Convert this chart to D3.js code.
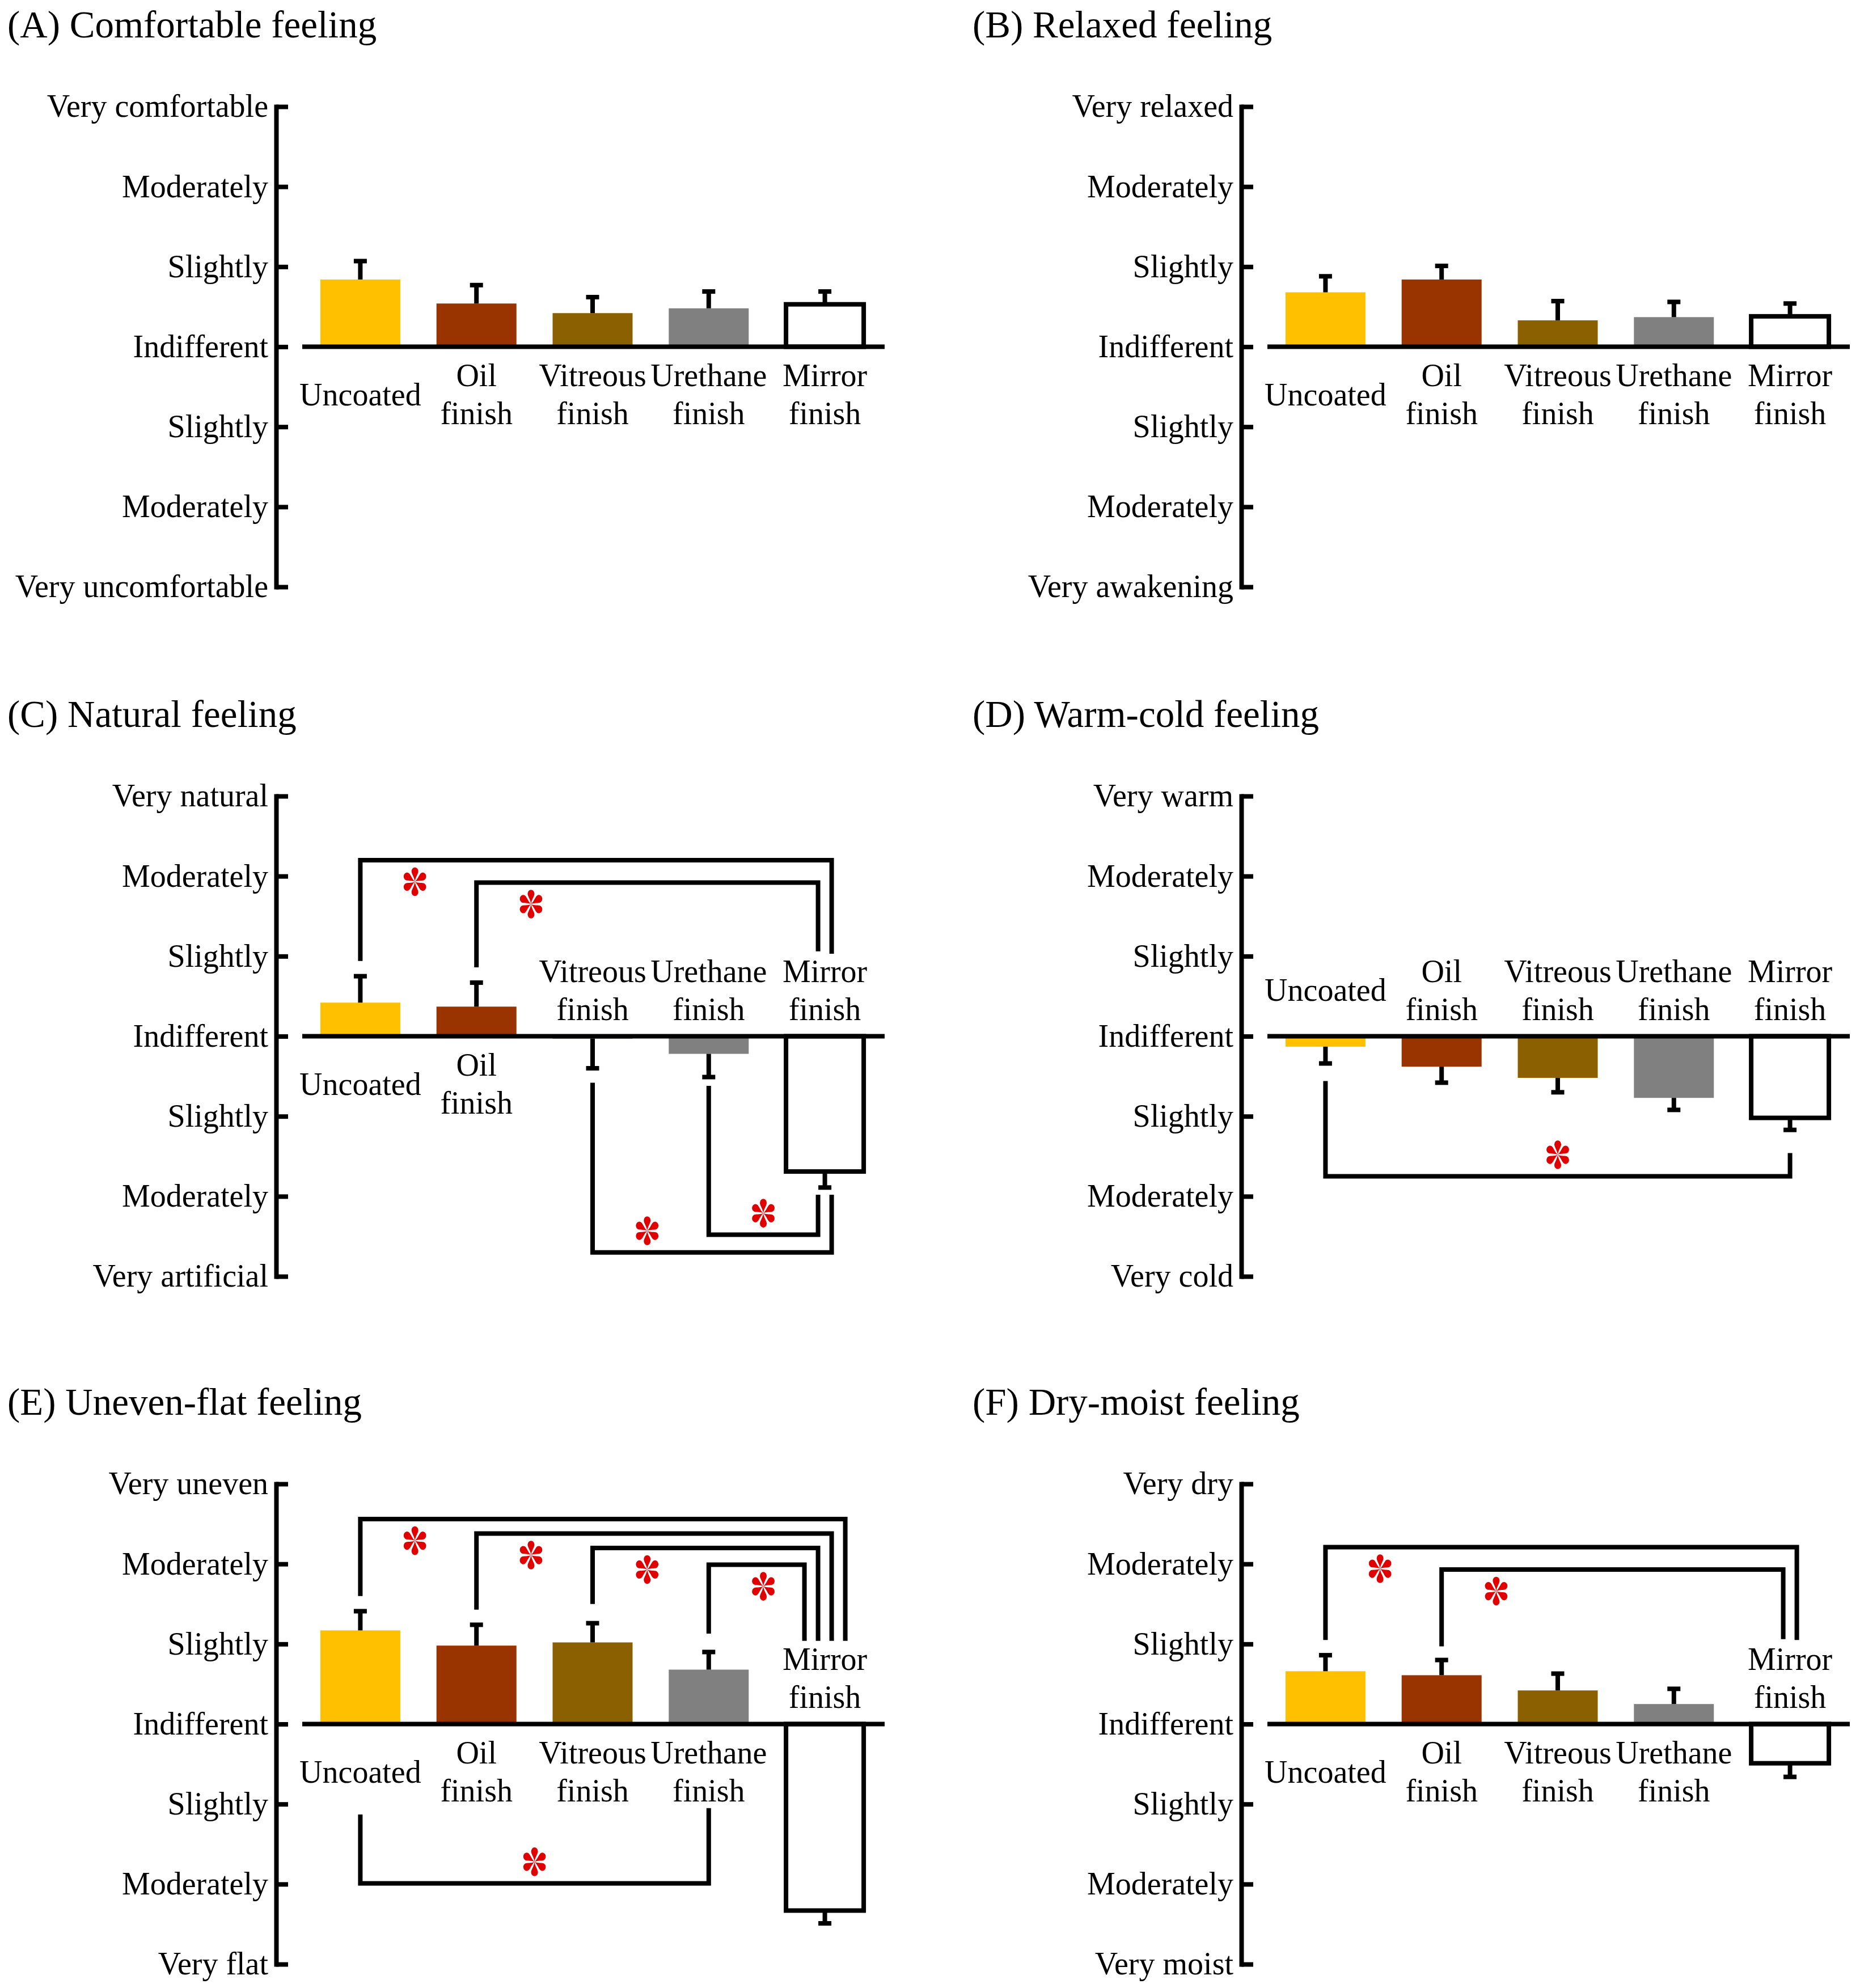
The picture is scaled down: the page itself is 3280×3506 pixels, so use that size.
<!DOCTYPE html>
<html lang="en">
<head>
  <meta charset="UTF-8">
  <title>Feelings by finish</title>
  <script src="https://d3js.org/d3.v7.min.js"></script>
  <style>
    html, body { margin: 0; padding: 0; background: #fff; }
    svg { display: block; background: #fff; }
    text { font-family: "Liberation Serif", "Times New Roman", serif; fill: #000; }
  </style>
</head>
<body>
  <svg id="chart" width="3280" height="3506"></svg>
  <script>
    // Categories shared by every panel
    const categories = ["Uncoated", "Oil finish", "Vitreous finish", "Urethane finish", "Mirror finish"];
    const barColors = ["#FFC000", "#993300", "#8B6000", "#808080", "#FFFFFF"];

    const tickValues = [-3, -2, -1, 0, 1, 2, 3];
    const middleTicks = ["Moderately", "Slightly", "Indifferent", "Slightly", "Moderately"];

    const titles = ["(A) Comfortable feeling", "(B) Relaxed feeling", "(C) Natural feeling",
                    "(D) Warm-cold feeling", "(E) Uneven-flat feeling", "(F) Dry-moist feeling"];
    const topTicks = ["Very comfortable", "Very relaxed", "Very natural", "Very warm", "Very uneven", "Very dry"];
    const bottomTicks = ["Very uncomfortable", "Very awakening", "Very artificial", "Very cold", "Very flat", "Very moist"];

    // Means and standard errors
    const meansA = [0.84, 0.54, 0.42, 0.48, 0.53];
    const seA    = [0.23, 0.23, 0.20, 0.21, 0.16];
    const meansB = [0.68, 0.84, 0.33, 0.37, 0.38];
    const seB    = [0.20, 0.17, 0.24, 0.19, 0.16];
    const meansC = [0.42, 0.37, -0.03, -0.22, -1.69];
    const seC    = [0.33, 0.30, 0.37, 0.29, 0.20];
    const meansD = [-0.13, -0.38, -0.52, -0.77, -1.02];
    const seD    = [0.21, 0.20, 0.18, 0.15, 0.15];
    const meansE = [1.17, 0.98, 1.02, 0.68, -2.33];
    const seE    = [0.24, 0.26, 0.24, 0.22, 0.16];
    const meansF = [0.66, 0.61, 0.42, 0.25, -0.49];
    const seF    = [0.20, 0.19, 0.21, 0.19, 0.17];

    // Significance brackets: [from, to, level, fromEnd, toEnd] in scale units
    const bracketsA = [];
    const bracketsB = [];
    const bracketsC = [[0, 4, 2.20, 0.94, 1.03], [1, 4, 1.92, 0.86, 1.06],
                       [2, 4, -2.70, -0.58, -1.98], [3, 4, -2.48, -0.62, -1.98]];
    const bracketsD = [[0, 4, -1.75, -0.56, -1.46]];
    const bracketsE = [[0, 4, 2.56, 1.60, 1.04], [1, 4, 2.38, 1.43, 1.04],
                       [2, 4, 2.20, 1.50, 1.04], [3, 4, 1.99, 1.13, 1.04],
                       [0, 3, -1.99, -1.13, -1.05]];
    const bracketsF = [[0, 4, 2.21, 1.05, 1.05], [1, 4, 1.93, 0.97, 1.06]];

    const panelMeans = [meansA, meansB, meansC, meansD, meansE, meansF];
    const panelSE = [seA, seB, seC, seD, seE, seF];
    const panelBrackets = [bracketsA, bracketsB, bracketsC, bracketsD, bracketsE, bracketsF];

    // Layout
    const colAxisX = [487, 2189];
    const rowTop = [188, 1404, 2617];
    const plotH = 847;
    const barW = 141;
    const stroke = 8;
    const fontSize = 56;
    const titleSize = 67;

    const svg = d3.select("#chart");

    function drawStar(g, cx, cy) {
      const s = g.append("g")
        .attr("transform", `translate(${cx},${cy}) scale(1.0,1.15)`)
        .attr("fill", "#e00000");
      const petal = "M0,0 C-1,-7 -6,-12 -6,-16 A6,6 0 0 1 6,-16 C6,-12 1,-7 0,0 Z";
      d3.range(6).forEach(i => {
        s.append("path").attr("d", petal).attr("transform", `rotate(${i * 60})`);
      });
    }

    function drawPanel(p) {
      const ax = colAxisX[p % 2];
      const top = rowTop[Math.floor(p / 2)];
      const means = panelMeans[p];
      const se = panelSE[p];
      const brackets = panelBrackets[p];

      const y = d3.scaleLinear().domain([-3, 3]).range([top + plotH, top]);
      const x = d3.scalePoint().domain(categories).range([ax + 46, ax + 1070]).padding(0.5);
      const y0 = y(0);

      const g = svg.append("g");

      // Title
      g.append("text")
        .attr("x", ax - 474)
        .attr("y", top - 122)
        .attr("font-size", titleSize)
        .text(titles[p]);

      // Y axis, ticks pointing right, labels on the left
      const labels = [bottomTicks[p], ...middleTicks.slice().reverse(), topTicks[p]];
      const axis = d3.axisLeft(y)
        .tickValues(tickValues)
        .tickSizeInner(-21)
        .tickSizeOuter(0)
        .tickPadding(14)
        .tickFormat((d, i) => labels[i]);
      const ag = g.append("g")
        .attr("transform", `translate(${ax},0)`)
        .call(axis);
      ag.select(".domain").attr("stroke", "#000").attr("stroke-width", stroke).attr("stroke-linecap", "square");
      ag.selectAll(".tick line").attr("stroke", "#000").attr("stroke-width", stroke);
      ag.selectAll(".tick text")
        .attr("font-size", fontSize)
        .attr("font-family", "Liberation Serif, Times New Roman, serif")
        .attr("fill", "#000");

      // Bars
      categories.forEach((c, i) => {
        const m = means[i];
        const isMirror = i === categories.length - 1;
        const yTop = Math.min(y(m), y0);
        const h = Math.abs(y(m) - y0);
        g.append("rect")
          .attr("x", x(c) - barW / 2 + (isMirror ? 2 : 0))
          .attr("y", yTop)
          .attr("width", barW - (isMirror ? 4 : 0))
          .attr("height", h)
          .attr("fill", barColors[i])
          .attr("stroke", isMirror ? "#000" : "none")
          .attr("stroke-width", isMirror ? stroke : 0);

        // Error bar in the outward direction only
        const dir = m >= 0 ? 1 : -1;
        const yEnd = y(m + dir * se[i]);
        g.append("line")
          .attr("x1", x(c)).attr("x2", x(c))
          .attr("y1", y(m)).attr("y2", yEnd)
          .attr("stroke", "#000").attr("stroke-width", stroke);
        g.append("line")
          .attr("x1", x(c) - 11.5).attr("x2", x(c) + 11.5)
          .attr("y1", yEnd).attr("y2", yEnd)
          .attr("stroke", "#000").attr("stroke-width", stroke);

        // Category label: below the zero line for positive bars, above for negative
        const lines = c.split(" ");
        let baselines;
        if (m >= 0) baselines = lines.length === 1 ? [103] : [69, 136];
        else baselines = lines.length === 1 ? [-63] : [-96, -29];
        lines.forEach((t, k) => {
          g.append("text")
            .attr("x", x(c))
            .attr("y", y0 + baselines[k])
            .attr("text-anchor", "middle")
            .attr("font-size", fontSize)
            .text(t);
        });
      });

      // Zero line
      g.append("line")
        .attr("x1", ax + 46).attr("x2", ax + 1073)
        .attr("y1", y0).attr("y2", y0)
        .attr("stroke", "#000").attr("stroke-width", stroke);

      // Significance brackets
      const groups = d3.group(brackets, b => b[1] + (b[2] > 0 ? "+" : "-"));
      brackets.forEach(b => {
        const [from, to, level, fromEnd, toEnd] = b;
        const grp = groups.get(to + (level > 0 ? "+" : "-"));
        const n = grp.length;
        const k = grp.indexOf(b);
        const off = ((n - 1) / 2 - k) * 24;
        const x1 = x(categories[from]);
        const x2 = x(categories[to]) + off;
        const path = d3.path();
        path.moveTo(x1, y(fromEnd));
        path.lineTo(x1, y(level));
        path.lineTo(x2, y(level));
        path.lineTo(x2, y(toEnd));
        g.append("path")
          .attr("d", path.toString())
          .attr("fill", "none")
          .attr("stroke", "#000")
          .attr("stroke-width", stroke)
          .attr("stroke-linejoin", "miter");

        const sx = n > 1 ? x1 + 0.47 * x.step() : (x1 + x(categories[to])) / 2;
        const sy = y(level) + (level > 0 ? 38 : -38);
        drawStar(g, sx, sy);
      });
    }

    d3.range(6).forEach(drawPanel);
  </script>
</body>
</html>
